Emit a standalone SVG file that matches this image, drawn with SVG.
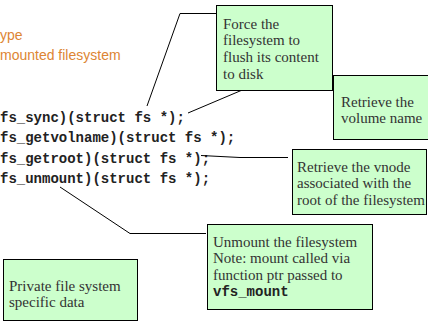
<svg xmlns="http://www.w3.org/2000/svg" width="428" height="321" viewBox="0 0 428 321">
<style>
.box{fill:#ccffcc;stroke:#000;stroke-width:1}
.t{font-family:"Liberation Serif",serif;font-size:15px;fill:#333}
.code{font-family:"Liberation Mono",monospace;font-weight:bold;font-size:14px;fill:#222}
.org{font-family:"Liberation Sans",sans-serif;font-size:14px;fill:#dd8533}
.c{fill:none;stroke:#000;stroke-width:1}
</style>
<rect width="428" height="321" fill="#fff"/>
<g id="header">
<text class="org" x="0" y="40">ype</text>
<text class="org" x="0" y="60">mounted filesystem</text>
</g>
<g id="code">
<text class="code" x="0" y="122">fs_sync)(struct fs *);</text>
<text class="code" x="0" y="142">fs_getvolname)(struct fs *);</text>
<text class="code" x="0" y="162.5">fs_getroot)(struct fs *);</text>
<text class="code" x="0" y="182.5">fs_unmount)(struct fs *);</text>
</g>
<g id="connectors">
<polyline class="c" points="147,106 180,13.5 216,13.5"/>
<polyline class="c" points="188,113 260,82.5 328,82.5"/>
<polyline class="c" points="201,155.5 240,157.5 288,157.5"/>
<polyline class="c" points="60,187 130,233.5 206,233.5"/>
</g>
<g id="sync">
<rect class="box" x="216.5" y="5.5" width="116" height="85"/>
<text class="t" x="223" y="28.5">Force the</text>
<text class="t" x="223" y="45.3">filesystem to</text>
<text class="t" x="223" y="62">flush its content</text>
<text class="t" x="223" y="78.7">to disk</text>
</g>
<g id="volname">
<rect class="box" x="333.5" y="75.5" width="100" height="64"/>
<text class="t" x="341" y="106.5">Retrieve the</text>
<text class="t" x="341" y="123">volume name</text>
</g>
<g id="root">
<rect class="box" x="292.5" y="149.5" width="134" height="65"/>
<text class="t" x="297" y="171.5">Retrieve the vnode</text>
<text class="t" x="297" y="188">associated with the</text>
<text class="t" x="297" y="204.5">root of the filesystem</text>
</g>
<g id="unmount">
<rect class="box" x="207.5" y="224.5" width="165" height="85"/>
<text class="t" x="213" y="246.5">Unmount the filesystem</text>
<text class="t" x="213" y="263">Note: mount called via</text>
<text class="t" x="213" y="279.5">function ptr passed to</text>
<text class="code" x="213" y="296">vfs_mount</text>
</g>
<g id="private">
<rect class="box" x="3.5" y="259.5" width="134" height="61"/>
<text class="t" x="9" y="291">Private file system</text>
<text class="t" x="9" y="307">specific data</text>
</g>
</svg>
